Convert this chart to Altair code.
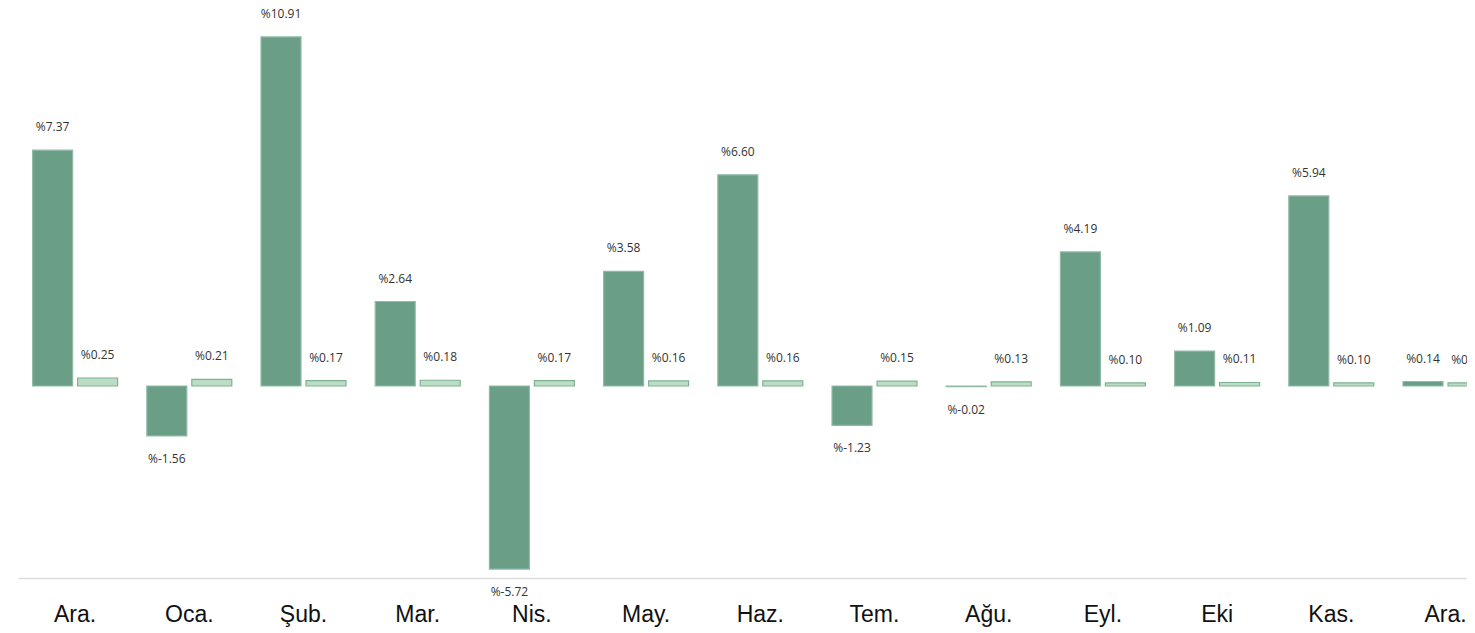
import altair as alt
import pandas as pd

months = ["Ara.", "Oca.", "Şub.", "Mar.", "Nis.", "May.", "Haz.", "Tem.", "Ağu.", "Eyl.", "Eki", "Kas.", "Ara."]
series_a = [7.37, -1.56, 10.91, 2.64, -5.72, 3.58, 6.60, -1.23, -0.02, 4.19, 1.09, 5.94, 0.14]
series_b = [0.25, 0.21, 0.17, 0.18, 0.17, 0.16, 0.16, 0.15, 0.13, 0.10, 0.11, 0.10, 0.10]
series_names = ["A", "B"]

rows = []
for i, m in enumerate(months):
    key = f"{i:02d}|{m}"
    for s, vals in zip(series_names, [series_a, series_b]):
        v = vals[i]
        rows.append({"key": key, "series": s, "value": v, "label": f"%{v:.2f}"})
df = pd.DataFrame(rows)

x_enc = alt.X(
    "key:N",
    sort=None,
    scale=alt.Scale(paddingInner=0.256, paddingOuter=0.128, range=[0, 1484.6]),
    axis=alt.Axis(
        title=None,
        labelExpr="split(datum.value, '|')[1]",
        labelAngle=0,
        labelFont="Liberation Sans",
        labelFontSize=23,
        labelColor="#111111",
        labelPadding=25,
        ticks=False,
        domainColor="#dddddd",
        domainWidth=1.5,
        grid=False,
    ),
)
y_scale = alt.Scale(domain=[-6, 11.75], nice=False, zero=True)
xoff = alt.XOffset("series:N", scale=alt.Scale(paddingInner=0.111, paddingOuter=0))

base = alt.Chart(df).encode(x=x_enc, xOffset=xoff)

bars = base.mark_bar(strokeWidth=1.2).encode(
    y=alt.Y("value:Q", scale=y_scale, axis=None),
    fill=alt.Fill("series:N", scale=alt.Scale(domain=series_names, range=["#6a9e86", "#bddcc6"]), legend=None),
    stroke=alt.Stroke("series:N", scale=alt.Scale(domain=series_names, range=["#8fbba5", "#7db392"]), legend=None),
)

pos_text = base.transform_filter("datum.value >= 0").mark_text(
    baseline="alphabetic", dy=-19, font="Open Sans", fontSize=12, color="#333333"
).encode(y=alt.Y("value:Q", scale=y_scale, axis=None), text="label:N")

neg_text = base.transform_filter("datum.value < 0").mark_text(
    baseline="top", dy=18, font="Open Sans", fontSize=12, color="#333333"
).encode(y=alt.Y("value:Q", scale=y_scale, axis=None), text="label:N")

chart = (
    alt.layer(bars, pos_text, neg_text)
    .properties(
        width=1449,
        height=568,
        padding={"left": 10, "top": 2, "right": 0, "bottom": 53},
        autosize=alt.AutoSizeParams(type="none"),
        background="white",
    )
    .configure_view(stroke="transparent", strokeWidth=0)
)

chart.save("out.html", embed_options={"renderer": "svg", "actions": False})
